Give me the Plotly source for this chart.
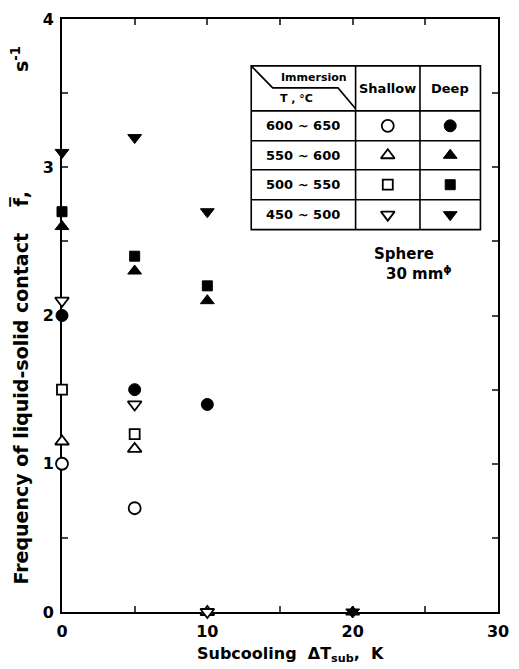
import plotly.graph_objects as go

# ---- data ----
shallow_circle_x = [0, 5]
shallow_circle_y = [1.0, 0.7]
shallow_tri_up_x = [0, 5, 10]
shallow_tri_up_y = [1.15, 1.1, 0.0]
shallow_square_x = [0, 5]
shallow_square_y = [1.5, 1.2]
shallow_tri_down_x = [0, 5, 10]
shallow_tri_down_y = [2.1, 1.4, 0.0]

deep_circle_x = [0, 5, 10]
deep_circle_y = [2.0, 1.5, 1.4]
deep_tri_up_x = [0, 5, 10, 20]
deep_tri_up_y = [2.6, 2.3, 2.1, 0.0]
deep_square_x = [0, 5, 10]
deep_square_y = [2.7, 2.4, 2.2]
deep_tri_down_x = [0, 5, 10, 20]
deep_tri_down_y = [3.1, 3.2, 2.7, 0.0]

temp_ranges = ["600 ~ 650", "550 ~ 600", "500 ~ 550", "450 ~ 500"]
symbols = ["circle", "triangle-up", "square", "triangle-down"]

x_tickvals = [0, 5, 10, 15, 20, 25, 30]
x_ticktext = ["0", "", "10", "", "20", "", "30"]
y_tickvals = [0, 0.5, 1, 1.5, 2, 2.5, 3, 3.5, 4]
y_ticktext = ["0", "", "1", "", "2", "", "3", "", "4"]

FONT = "DejaVu Sans"
W, H = 519, 669
L, R, T, B = 62, 10, 18, 57
PW, PH = W - L - R, H - T - B


def px(x):
    return (x - L) / PW


def py(y):
    return (H - B - y) / PH


def f(size, weight="bold"):
    return dict(family=FONT, size=size, color="black", weight=weight)


fig = go.Figure()

shallow = [(shallow_circle_x, shallow_circle_y), (shallow_tri_up_x, shallow_tri_up_y),
           (shallow_square_x, shallow_square_y), (shallow_tri_down_x, shallow_tri_down_y)]
deep = [(deep_circle_x, deep_circle_y), (deep_tri_up_x, deep_tri_up_y),
        (deep_square_x, deep_square_y), (deep_tri_down_x, deep_tri_down_y)]

sizes = {"circle": 12, "triangle-up": 12, "square": 10, "triangle-down": 12}

for (xs, ys), sym, lab in zip(shallow, symbols, temp_ranges):
    fig.add_trace(go.Scatter(x=xs, y=ys, mode="markers", name="Shallow " + lab,
                             cliponaxis=False, showlegend=False,
                             marker=dict(symbol=sym, size=sizes[sym], color="white", opacity=1,
                                         line=dict(color="black", width=1.8))))
for (xs, ys), sym, lab in zip(deep, symbols, temp_ranges):
    fig.add_trace(go.Scatter(x=xs, y=ys, mode="markers", name="Deep " + lab,
                             cliponaxis=False, showlegend=False,
                             marker=dict(symbol=sym, size=sizes[sym], color="black", opacity=1,
                                         line=dict(color="black", width=1))))

# ---- table legend ----
tx0, tx1, tx2, tx3 = 256, 363, 429, 491
rows = [65, 110, 140, 169, 199, 229]
shapes = []
line = dict(color="black", width=1.6)
shapes.append(dict(type="rect", xref="paper", yref="paper", x0=px(tx0), x1=px(tx3),
                   y0=py(rows[0]), y1=py(rows[-1]), line=line))
for r in rows[1:-1]:
    shapes.append(dict(type="line", xref="paper", yref="paper", x0=px(tx0), x1=px(tx3),
                       y0=py(r), y1=py(r), line=line))
for c in (tx1, tx2):
    shapes.append(dict(type="line", xref="paper", yref="paper", x0=px(c), x1=px(c),
                       y0=py(rows[0]), y1=py(rows[-1]), line=line))
path = "M {} {} L {} {} L {} {} L {} {}".format(
    px(tx0), py(65), px(278), py(87), px(345), py(87), px(tx1), py(108))
shapes.append(dict(type="path", xref="paper", yref="paper", path=path, line=line))

annotations = []


def ann(x, y, text, font, xanchor="center", yanchor="middle", angle=0):
    annotations.append(dict(x=px(x), y=py(y), xref="paper", yref="paper", text=text,
                            showarrow=False, xanchor=xanchor, yanchor=yanchor,
                            textangle=angle, font=font))


ann(320, 77, "Immersion", f(11))
ann(302, 98, "T , °C", f(11))
ann(396, 88, "Shallow", f(13))
ann(460, 88, "Deep", f(13))
centers = [(rows[i] + rows[i + 1]) / 2 for i in range(1, 5)]
for lab, cy in zip(temp_ranges, centers):
    ann(309, cy, lab, f(13))

fig.add_trace(go.Scatter(x=[px(396)] * 4, y=[py(c) for c in centers], xaxis="x2", yaxis="y2",
                         mode="markers", showlegend=False, hoverinfo="skip",
                         marker=dict(symbol=symbols, size=[sizes[s] for s in symbols], color="white",
                                     opacity=1, line=dict(color="black", width=1.8))))
fig.add_trace(go.Scatter(x=[px(460)] * 4, y=[py(c) for c in centers], xaxis="x2", yaxis="y2",
                         mode="markers", showlegend=False, hoverinfo="skip",
                         marker=dict(symbol=symbols, size=[sizes[s] for s in symbols], color="black",
                                     opacity=1, line=dict(color="black", width=1))))

ann(380, 253, "Sphere", f(15), xanchor="left")
ann(392, 272, "30 mm<sup>ϕ</sup>", f(15), xanchor="left")

# axis titles
NB = "\u00a0"
ann(18, 315, "Frequency of liquid-solid contact" + NB * 4 + "f\u0305," + NB * 18 + "s<sup>-1</sup>",
    f(19), angle=-90)
ann(296, 655, "Subcooling" + NB * 2 + "ΔT<sub>sub</sub>," + NB * 2 + "K", f(16))

axfont = f(16)
fig.update_layout(
    width=W, height=H,
    margin=dict(l=L, r=R, t=T, b=B),
    paper_bgcolor="white", plot_bgcolor="white",
    font=dict(family=FONT, color="black"),
    shapes=shapes, annotations=annotations,
    xaxis=dict(range=[0, 30], tickvals=x_tickvals, ticktext=x_ticktext, ticks="inside",
               ticklen=6, tickwidth=1.5, showline=True, linecolor="black", linewidth=1.8,
               mirror="ticks", showgrid=False, zeroline=False, layer="below traces",
               tickfont=axfont, ticklabelstandoff=4),
    yaxis=dict(range=[0, 4], tickvals=y_tickvals, ticktext=y_ticktext, ticks="inside",
               ticklen=6, tickwidth=1.5, showline=True, linecolor="black", linewidth=1.8,
               mirror="ticks", showgrid=False, zeroline=False, layer="below traces",
               tickfont=axfont, ticklabelstandoff=3),
    xaxis2=dict(range=[0, 1], overlaying="x", visible=False, fixedrange=True),
    yaxis2=dict(range=[0, 1], overlaying="y", visible=False, fixedrange=True),
)

fig.write_html("out.html")
